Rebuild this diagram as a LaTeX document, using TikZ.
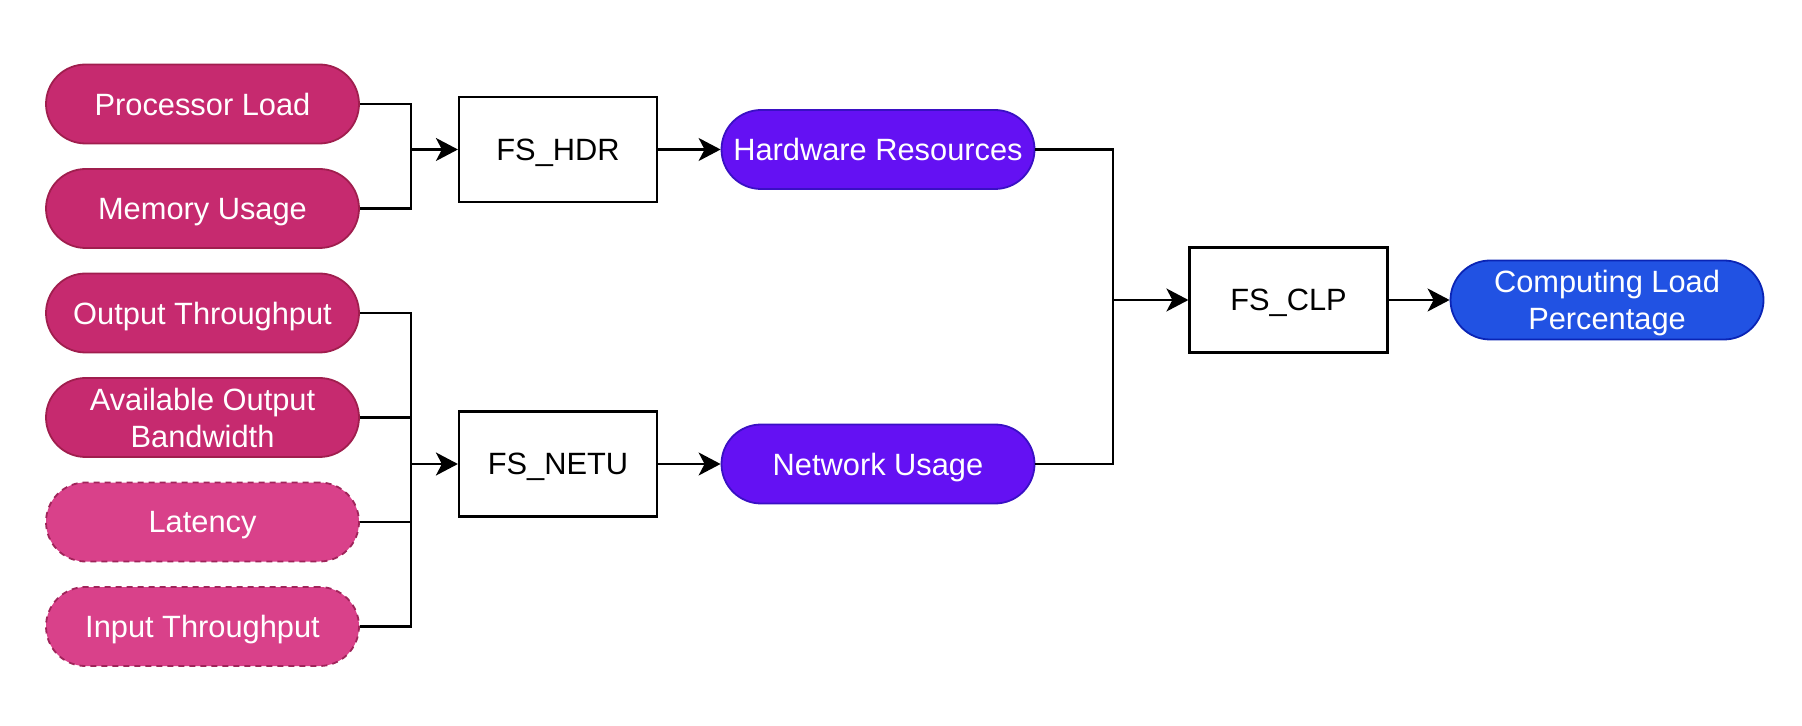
\documentclass[tikz,border=0pt]{standalone}
\usepackage{fontspec}
\setmainfont{Liberation Sans}
\usetikzlibrary{arrows.meta}
\definecolor{pinkfill}{HTML}{C62A6F}
\definecolor{pinkline}{HTML}{A01E4E}
\definecolor{lpinkfill}{HTML}{D9418A}
\definecolor{lpinkline}{HTML}{A0245A}
\definecolor{violetfill}{HTML}{6411F3}
\definecolor{violetline}{HTML}{3A10C4}
\definecolor{bluefill}{HTML}{2152E3}
\definecolor{blueline}{HTML}{0A24B5}
\tikzset{
  pill/.style={rounded corners=19.75pt, minimum width=156.5pt, minimum height=39.5pt,
    text=white, align=center, font=\fontsize{15.4}{18.5}\selectfont, line width=0.9pt,
    inner sep=0pt, text depth=0pt},
  inpill/.style={pill, draw=pinkline, fill=pinkfill},
  optpill/.style={pill, draw=lpinkline, fill=lpinkfill, dash pattern=on 3pt off 2.5pt},
  midpill/.style={pill, draw=violetline, fill=violetfill},
  outpill/.style={pill, draw=blueline, fill=bluefill},
  fsbox/.style={draw=black, fill=white, line width=1.1pt, minimum width=99pt, minimum height=52.5pt,
    font=\fontsize{15.4}{18.5}\selectfont, inner sep=0pt, text depth=0pt},
  conn/.style={line width=1.1pt, draw=black},
  arr/.style={conn, -{Stealth[length=11pt, width=11.5pt, inset=3pt]}}
}
\begin{document}
\begin{tikzpicture}[x=0.5pt, y=-0.5pt]
\useasboundingbox (0,0) rectangle (1802,726);
\node[inpill] (pl) at (202.5,104) {Processor Load};
\node[inpill] (mu) at (202.5,208.5) {Memory Usage};
\node[inpill] (ot) at (202.5,313) {Output Throughput};
\node[inpill] (ab) at (202.5,417.5) {Available Output\\Bandwidth};
\node[optpill] (la) at (202.5,522) {Latency};
\node[optpill] (it) at (202.5,626.5) {Input Throughput};

\node[fsbox] (hdr) at (558,149.5) {FS\_HDR};
\node[fsbox] (netu) at (558,464) {FS\_NETU};

\node[midpill] (hr) at (878,149.5) {Hardware Resources};
\node[midpill] (nu) at (878,464) {Network Usage};

\node[fsbox] (clp) at (1288.5,300) {FS\_CLP};
\node[outpill] (cl) at (1607,300) {Computing Load\\Percentage};

\coordinate (j1) at (411,149.5);
\coordinate (j2) at (411,464);
\coordinate (j3) at (1113,300);

\draw[conn] (pl.east) -| (j1);
\draw[conn] (mu.east) -| (j1);
\draw[arr] (j1) -- (hdr.west);

\draw[conn] (ot.east) -| (j2);
\draw[conn] (ab.east) -| (j2);
\draw[conn] (la.east) -| (j2);
\draw[conn] (it.east) -| (j2);
\draw[arr] (j2) -- (netu.west);

\draw[arr] (hdr.east) -- (hr.west);
\draw[arr] (netu.east) -- (nu.west);

\draw[conn] (hr.east) -| (j3);
\draw[conn] (nu.east) -| (j3);
\draw[arr] (j3) -- (clp.west);
\draw[arr] (clp.east) -- (cl.west);
\end{tikzpicture}
\end{document}
